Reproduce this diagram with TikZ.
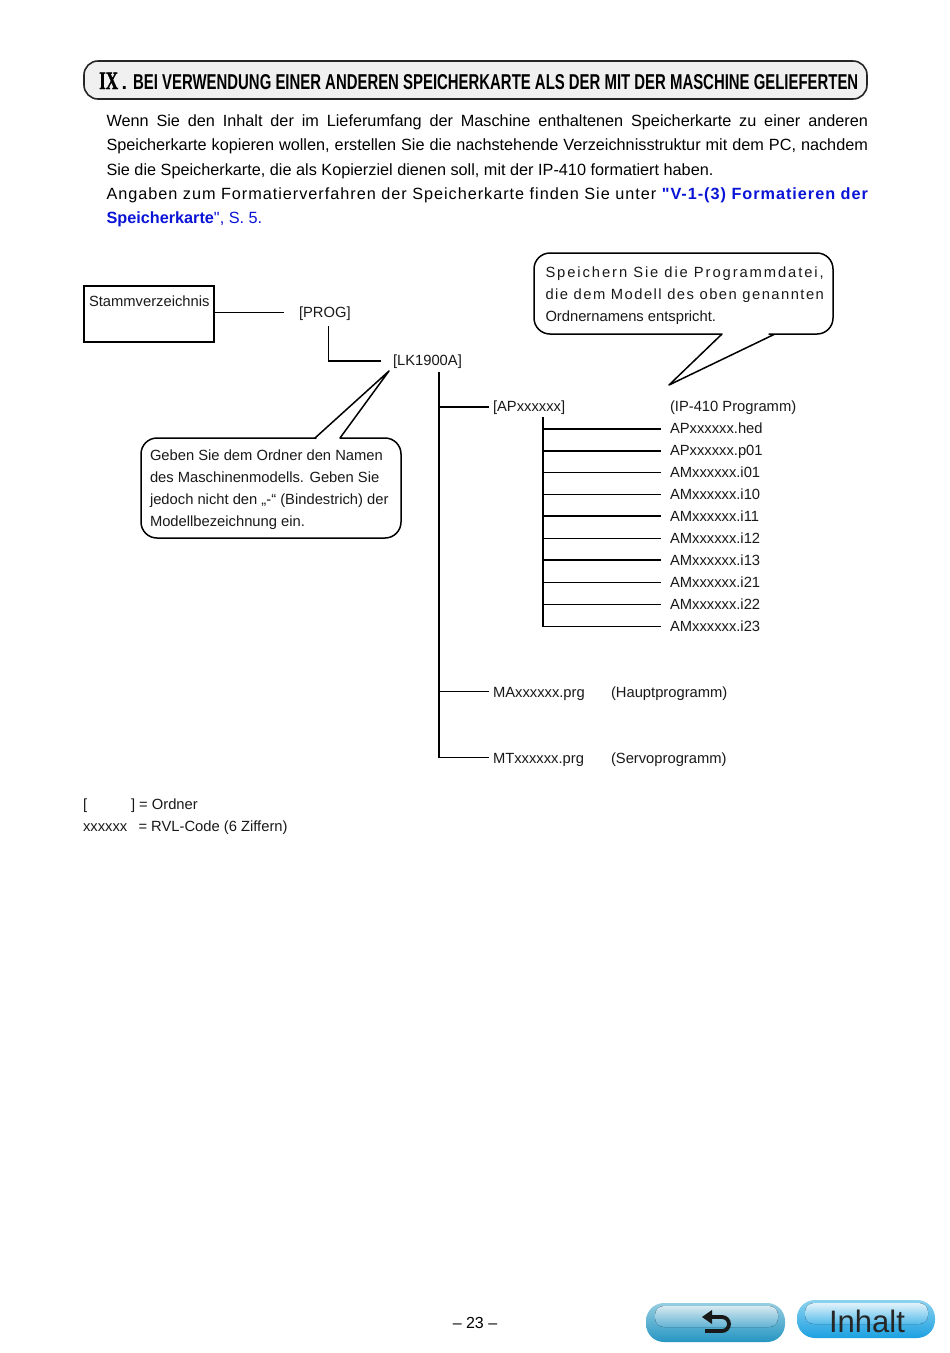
\documentclass[tikz,border=0pt]{standalone}
\usepackage{fontspec}
\setmainfont[Ligatures=TeXOff]{Liberation Sans}
\newfontfamily\serifbf[Ligatures=TeXOff]{Liberation Serif}
\usetikzlibrary{calc}
\definecolor{linkblue}{RGB}{10,20,215}
\definecolor{btnTop}{RGB}{214,232,240}
\definecolor{btnRim}{RGB}{150,205,225}
\definecolor{btnMid}{RGB}{118,190,218}
\definecolor{btnBot}{RGB}{38,150,195}
\definecolor{bt2Top}{RGB}{225,242,250}
\definecolor{bt2Rim}{RGB}{140,210,240}
\definecolor{bt2Mid}{RGB}{104,196,238}
\definecolor{bt2Bot}{RGB}{28,160,225}
\newcommand{\sprd}[1]{\addfontfeature{LetterSpace=#1}}
\newcommand{\fullline}[1]{\makebox[761.5pt][s]{#1}}
\tikzset{
  txt/.style={anchor=base west,inner sep=0pt,outer sep=0pt,font=\fontsize{14.75}{17}\selectfont,text=black!90},
  body/.style={anchor=base west,inner sep=0pt,outer sep=0pt,font=\fontsize{16.25}{20}\selectfont},
  wire/.style={draw=black,line width=1.4pt},
  bubble/.style={draw=black,line width=1.5pt,fill=white,line join=round},
}
\begin{document}
\begin{tikzpicture}[x=1pt,y=-1pt]
\useasboundingbox (0,0) rectangle (950,1353);
\fill[white] (0,0) rectangle (950,1353);

% title
\draw[draw=black!85,line width=1.6pt,fill=black!6,rounded corners=14pt] (84,61) rectangle (867,99);
\node[anchor=base west,inner sep=0pt] (ix) at (99,89) {\scalebox{0.68}[1]{\fontsize{25}{25}\selectfont\serifbf\bfseries\addfontfeature{FakeBold=1.5}IX}};
\node[anchor=base west,inner sep=0pt] (ixdot) at (121.5,89) {\fontsize{20}{20}\selectfont\bfseries .};
\node[anchor=base west,inner sep=0pt] (title) at (133,89) {\scalebox{0.694}[1]{\fontsize{21.5}{24}\selectfont\bfseries BEI VERWENDUNG EINER ANDEREN SPEICHERKARTE ALS DER MIT DER MASCHINE GELIEFERTEN}};

% body
\node[body] (l1) at (106.5,126) {\fullline{Wenn Sie den Inhalt der im Lieferumfang der Maschine enthaltenen Speicherkarte zu einer anderen}};
\node[body] (l2) at (106.5,150.5) {\fullline{Speicherkarte kopieren wollen, erstellen Sie die nachstehende Verzeichnisstruktur mit dem PC, nachdem}};
\node[body] (l3) at (106.5,175) {Sie die Speicherkarte, die als Kopierziel dienen soll, mit der IP-410 formatiert haben.};
\node[body] (l4) at (106.5,199) {\fullline{\sprd{6}Angaben zum Formatierverfahren der Speicherkarte finden Sie unter {\color{linkblue}\bfseries\sprd{6}"V-1-(3) Formatieren der}}};
\node[body] (l5) at (106.5,223.5) {\color{linkblue}\textbf{Speicherkarte}", S. 5.};

% root
\node[draw=black,line width=1.5pt,minimum width=130pt,minimum height=56pt,inner sep=0pt,outer sep=0pt,anchor=north west] (root) at (84,286) {};
\node[txt] (rootT) at (89,306) {Stammverzeichnis};
\node[txt] (prog) at (299,317) {[PROG]};
\node[txt] (lk) at (393,365) {[LK1900A]};
\node[txt] (apd) at (493,411) {[APxxxxxx]};
\node[txt] (ip) at (670,411) {(IP-410 Programm)};
\node[txt] (f0) at (670,433) {APxxxxxx.hed};
\node[txt] (f1) at (670,455) {APxxxxxx.p01};
\node[txt] (f2) at (670,477) {AMxxxxxx.i01};
\node[txt] (f3) at (670,499) {AMxxxxxx.i10};
\node[txt] (f4) at (670,521) {AMxxxxxx.i11};
\node[txt] (f5) at (670,543) {AMxxxxxx.i12};
\node[txt] (f6) at (670,565) {AMxxxxxx.i13};
\node[txt] (f7) at (670,587) {AMxxxxxx.i21};
\node[txt] (f8) at (670,609) {AMxxxxxx.i22};
\node[txt] (f9) at (670,631) {AMxxxxxx.i23};
\node[txt] (ma) at (493,697) {MAxxxxxx.prg};
\node[txt] (mah) at (611,697) {(Hauptprogramm)};
\node[txt] (mt) at (493,763) {MTxxxxxx.prg};
\node[txt] (mth) at (611,763) {(Servoprogramm)};
\node[txt] (leg1) at (83,809) {[};
\node[txt] (leg1b) at (131,809) {] = Ordner};
\node[txt] (leg2) at (83,831) {xxxxxx};
\node[txt] (leg2b) at (138.5,831) {= RVL-Code (6 Ziffern)};

% wires
\coordinate (rootEnd) at (284,312.5);
\draw[wire] (root.east |- rootEnd) -- (rootEnd);
\coordinate (progS) at (328.5,326);
\coordinate (lkW) at (381,361);
\draw[wire] (progS) -- (progS |- lkW) -- (lkW);
\coordinate (trunkTop) at (439,372);
\coordinate (trunkBot) at (439,757.5);
\coordinate (apE) at (489,407);
\coordinate (maE) at (489,691.5);
\coordinate (mtE) at (489,757.5);
\draw[wire] (trunkTop) -- (trunkBot) -- (mtE);
\draw[wire] (trunkTop |- apE) -- (apE);
\draw[wire] (trunkTop |- maE) -- (maE);
\coordinate (subTop) at (543,417);
\coordinate (subBot) at (543,627);
\draw[wire] (subTop) -- (subBot);
\foreach \n/\y in {0/429,1/451,2/472.5,3/494.5,4/516,5/538.5,6/560,7/582.5,8/604.5,9/626.5}{
  \coordinate (b\n) at (661,\y);
  \draw[wire] (subTop |- b\n) -- (b\n);
}

% left bubble
\draw[bubble] (350,438) [rounded corners=16pt] -- (401,438) -- (401,538) -- (141,538) -- (141,438) -- (300,438)
  [sharp corners] -- (315,438) -- (389,371) -- (340,438) -- cycle;
\node[txt] (c1) at (150,460) {Geben Sie dem Ordner den Namen};
\node[txt] (c2) at (150,482) {des Maschinenmodells. Geben Sie};
\node[txt] (c3) at (150,504) {jedoch nicht den „-“ (Bindestrich) der};
\node[txt] (c4) at (150,526) {Modellbezeichnung ein.};

% right bubble
\draw[bubble] (710,334) [rounded corners=16pt] -- (534,334) -- (534,253) -- (833,253) -- (833,334) -- (785,334)
  [sharp corners] -- (775,334) -- (669,385) -- (722,334) -- cycle;
\node[txt] (d1) at (545.5,277) {\sprd{13}Speichern Sie die Programmdatei,};
\node[txt] (d2) at (545.5,299) {\sprd{10}die dem Modell des oben genannten};
\node[txt] (d3) at (545.5,321) {Ordnernamens entspricht.};

% footer
\node[anchor=base,inner sep=0pt,font=\fontsize{16}{18}\selectfont] (pg) at (475,1328) {– 23 –};

% back button
\node[draw=none,rounded corners=18pt,minimum width=139pt,minimum height=39pt,inner sep=0pt,outer sep=0pt,
  top color=btnRim,bottom color=btnBot,anchor=center] (back) at (715.5,1322.5) {};
\fill[top color=btnTop,bottom color=btnMid!75!btnBot,rounded corners=9pt] (655,1306) rectangle (778,1327);
\draw[line width=3.8pt,black!90,rounded corners=7pt] (708,1317) -- (729,1317) -- (729,1331) -- (705,1331);
\fill[black!90] (702,1317) -- (712,1310) -- (712,1324) -- cycle;

% index button
\node[draw=none,rounded corners=18pt,minimum width=138pt,minimum height=38pt,inner sep=0pt,outer sep=0pt,
  top color=bt2Rim,bottom color=bt2Bot,anchor=center] (idxBtn) at (866,1319) {};
\fill[top color=bt2Top,bottom color=bt2Mid!75!bt2Bot,rounded corners=9pt] (805,1303) rectangle (928,1324);
\node[anchor=base,inner sep=0pt,font=\fontsize{31}{32}\selectfont,text=black!85] (idx) at (867,1332.5) {Inhalt};
\end{tikzpicture}
\end{document}
